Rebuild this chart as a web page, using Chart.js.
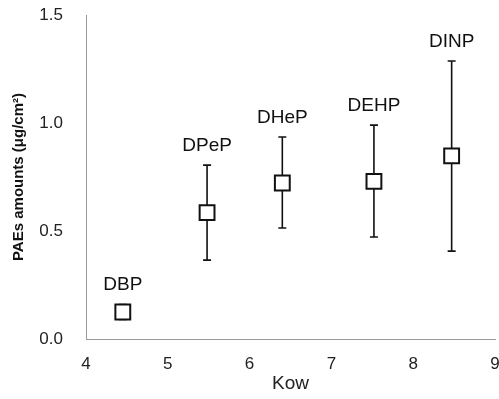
<!DOCTYPE html>
<html>
<head>
<meta charset="utf-8">
<script src="https://cdn.jsdelivr.net/npm/chart.js@4"></script>
<style>
  html, body { margin: 0; padding: 0; background: #fff; }
  #wrap { width: 499px; height: 399px; }
</style>
</head>
<body>
<div id="wrap"><canvas id="grafico"></canvas></div>
<script>
const nomes = ["DBP", "DPeP", "DHeP", "DEHP", "DINP"];
const kow = [4.45, 5.48, 6.40, 7.52, 8.47];
const medias = [0.125, 0.585, 0.722, 0.730, 0.848];
const minimos = [0.09, 0.365, 0.514, 0.472, 0.407];
const maximos = [0.16, 0.805, 0.935, 0.990, 1.287];
const ticksX = [4, 5, 6, 7, 8, 9];
const ticksY = [0.0, 0.5, 1.0, 1.5];

const pontos = kow.map((x, i) => ({ x: x, y: medias[i] }));
const fonte = "'Liberation Sans', Arial, sans-serif";

// tira o padding automatico das escalas para fixar a area do grafico
const zeraPadding = (s) => { s.paddingLeft = 0; s.paddingRight = 0; s.paddingTop = 0; s.paddingBottom = 0; };

// barras de erro e rotulos desenhados com as escalas do grafico
const barrasErro = {
    id: "barrasErro",
    beforeDatasetsDraw(chart) {
        const ctx = chart.ctx;
        const sx = chart.scales.x, sy = chart.scales.y;
        ctx.save();
        ctx.strokeStyle = "#111";
        ctx.lineWidth = 1.6;
        kow.forEach((x, i) => {
            const px = sx.getPixelForValue(x);
            const top = sy.getPixelForValue(maximos[i]);
            const bot = sy.getPixelForValue(minimos[i]);
            ctx.beginPath();
            ctx.moveTo(px, top); ctx.lineTo(px, bot);
            ctx.moveTo(px - 4, top); ctx.lineTo(px + 4, top);
            ctx.moveTo(px - 4, bot); ctx.lineTo(px + 4, bot);
            ctx.stroke();
        });
        ctx.restore();
    },
    afterDatasetsDraw(chart) {
        const ctx = chart.ctx;
        const sx = chart.scales.x, sy = chart.scales.y;
        ctx.save();
        ctx.fillStyle = "#111";
        ctx.font = "19px " + fonte;
        ctx.textAlign = "center";
        ctx.textBaseline = "alphabetic";
        kow.forEach((x, i) => {
            ctx.fillText(nomes[i], sx.getPixelForValue(x), sy.getPixelForValue(maximos[i]) - 14);
        });
        ctx.restore();
    }
};

new Chart(document.getElementById("grafico").getContext("2d"), {
    type: "scatter",
    data: {
        datasets: [
            {
                label: "PAEs",
                data: pontos,
                pointStyle: "rect",
                pointRadius: 10.5,
                pointHoverRadius: 10.5,
                pointBackgroundColor: "#fff",
                pointBorderColor: "#111",
                pointBorderWidth: 2,
            },
        ],
    },
    options: {
        responsive: true,
        maintainAspectRatio: false,
        animation: false,
        layout: { autoPadding: false, padding: { top: 15, right: 4, left: 0, bottom: 0 } },
        plugins: {
            legend: { display: false },
            tooltip: { enabled: false },
        },
        scales: {
            x: {
                type: "linear",
                min: 4,
                max: 9,
                afterBuildTicks: (s) => { s.ticks = ticksX.map((v) => ({ value: v })); },
                afterFit: (s) => { s.height = 60; zeraPadding(s); },
                grid: { display: false, drawTicks: true, tickLength: 5, tickColor: "#999" },
                border: { color: "#999", width: 1 },
                ticks: {
                    color: "#222",
                    padding: 10,
                    font: { family: fonte, size: 17 },
                },
                title: {
                    display: true,
                    text: "Kow",
                    color: "#222",
                    padding: { top: 0, bottom: 4 },
                    font: { family: fonte, size: 19 },
                },
            },
            y: {
                min: 0,
                max: 1.5,
                afterBuildTicks: (s) => { s.ticks = ticksY.map((v) => ({ value: v })); },
                afterFit: (s) => { s.width = 86; zeraPadding(s); },
                grid: { display: false, drawTicks: true, tickLength: 6, tickColor: "#999" },
                border: { color: "#999", width: 1 },
                ticks: {
                    color: "#222",
                    padding: 17,
                    callback: (v) => v.toFixed(1),
                    font: { family: fonte, size: 17 },
                },
                title: {
                    display: true,
                    text: "PAEs amounts (μg/cm²)",
                    color: "#111",
                    padding: { top: 10, bottom: 0 },
                    font: { family: fonte, size: 15, weight: "bold" },
                },
            },
        },
    },
    plugins: [barrasErro],
});
</script>
</body>
</html>
